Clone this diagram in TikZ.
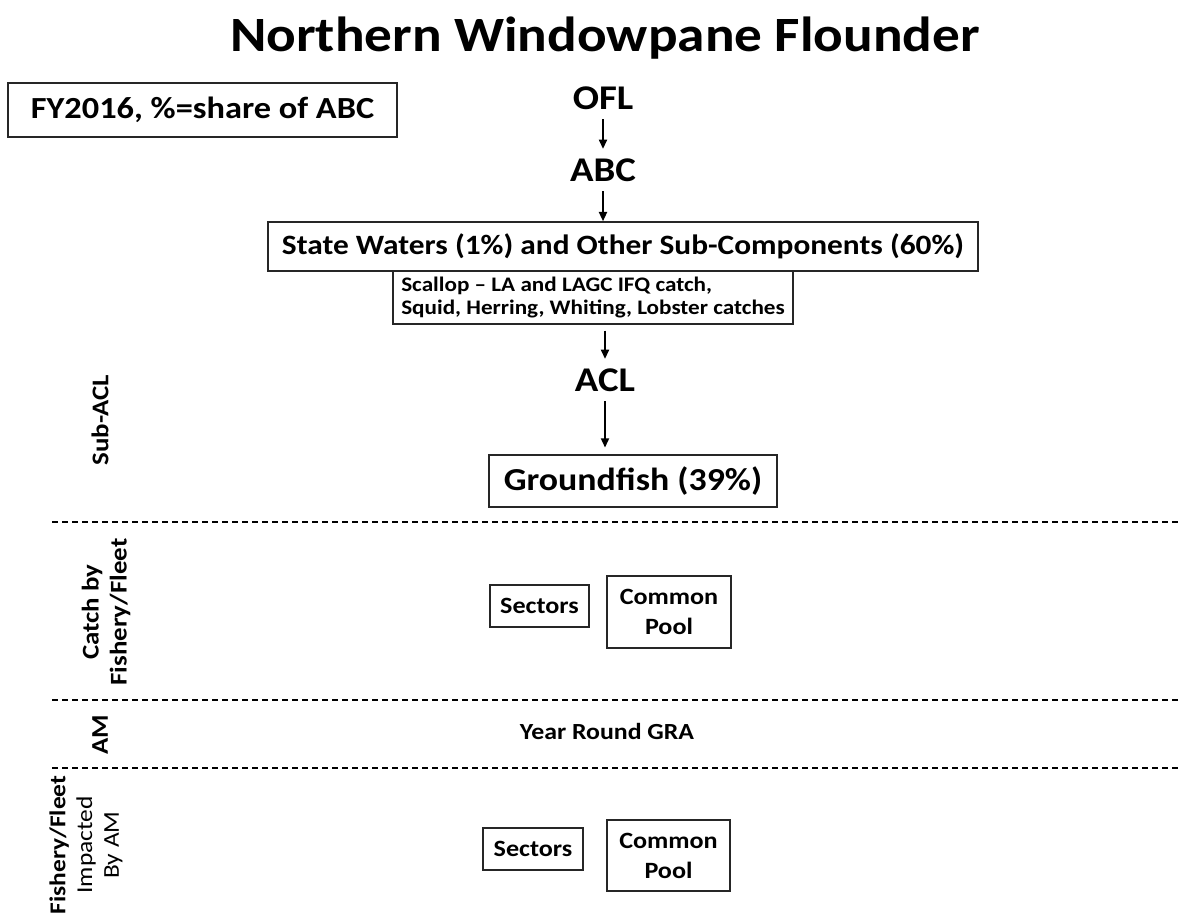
\documentclass[tikz,border=0pt]{standalone}
\usepackage{fontspec}
\setmainfont{Carlito}[FakeStretch=1.12]
\usetikzlibrary{arrows.meta}

\begin{document}
\begin{tikzpicture}[x=0.75pt, y=-0.75pt, font=\bfseries,
        box/.style = {draw=black!85, line width=1.1pt, inner sep=0pt, align=center},
        tag/.style = {font=\bfseries\fontsize{26}{30}\selectfont, inner xsep=2pt, inner ysep=7pt},
        fleet/.style = {box, font=\bfseries\fontsize{17.5}{22.5}\selectfont},
        side/.style = {rotate=90, align=center, font=\bfseries\fontsize{18}{21}\selectfont},
        arr/.style = {-{Triangle[length=7pt, width=6pt]}, line width=1.5pt},
        sep/.style = {line width=1.5pt, dash pattern=on 4.5pt off 3pt}]
        \useasboundingbox (0,0) rectangle (1180,918);

        % heading and legend
        \node[font=\bfseries\fontsize{37}{42}\selectfont] (title) at (605,38) {Northern Windowpane Flounder};
        \node[box, font=\bfseries\fontsize{23}{27}\selectfont,
            minimum width=291.75pt, minimum height=40.5pt] (legend) at (202.5,110)
            {FY2016, \%=share of ABC};

        % catch limits
        \node[tag] (ofl) at (603,98) {OFL};
        \node[tag] (abc) at (603,170) {ABC};
        \node[box, font=\bfseries\fontsize{21}{25}\selectfont,
            minimum width=532.5pt, minimum height=36.75pt] (state) at (623,246.5)
            {State Waters (1\%) and Other Sub-Components (60\%)};
        \node[box, align=left, font=\bfseries\fontsize{15.5}{17}\selectfont,
            minimum width=300pt, minimum height=39.75pt] (other) at (593,297.5)
            {Scallop -- LA and LAGC IFQ catch,\\Squid, Herring, Whiting, Lobster catches};
        \node[tag] (acl) at (605,380) {ACL};
        \node[box, font=\bfseries\fontsize{24}{28}\selectfont,
            minimum width=216pt, minimum height=39pt] (gf) at (633,481)
            {Groundfish (39\%)};

        % fleets
        \node[fleet, minimum width=74.25pt, minimum height=31.5pt] (sec) at (539.5,606) {Sectors};
        \node[fleet, minimum width=93pt, minimum height=54pt] (cp) at (669,612) {Common\\Pool};
        \node[font=\bfseries\fontsize{17.3}{21}\selectfont] (gra) at (607,731) {Year Round GRA};
        \node[fleet, minimum width=75pt, minimum height=31.5pt] (secam) at (533,849) {Sectors};
        \node[fleet, minimum width=92.25pt, minimum height=53.25pt] (cpam) at (668.5,855.5) {Common\\Pool};

        % row labels
        \node[side] (subacl) at (100,420) {Sub-ACL};
        \node[side] (catch) at (106,612) {Catch by\\Fishery/Fleet};
        \node[side] (am) at (100,735) {AM};
        \node[side, font=\fontsize{17}{20}\selectfont] (impact) at (86,845)
            {\bfseries Fishery/Fleet\\Impacted\\By AM};

        \draw[arr] (ofl) -- (abc);
        \draw[arr] (abc) -- (abc |- state.north);
        \draw[arr, shorten <=4.5pt] (acl |- other.south) -- (acl);
        \draw[arr, shorten >=5pt] (acl) -- (acl |- gf.north);

        \draw[sep] (52,522) -- (1180,522);
        \draw[sep] (52,700) -- (1180,700);
        \draw[sep] (52,768) -- (1180,768);
    \end{tikzpicture}
\end{document}
